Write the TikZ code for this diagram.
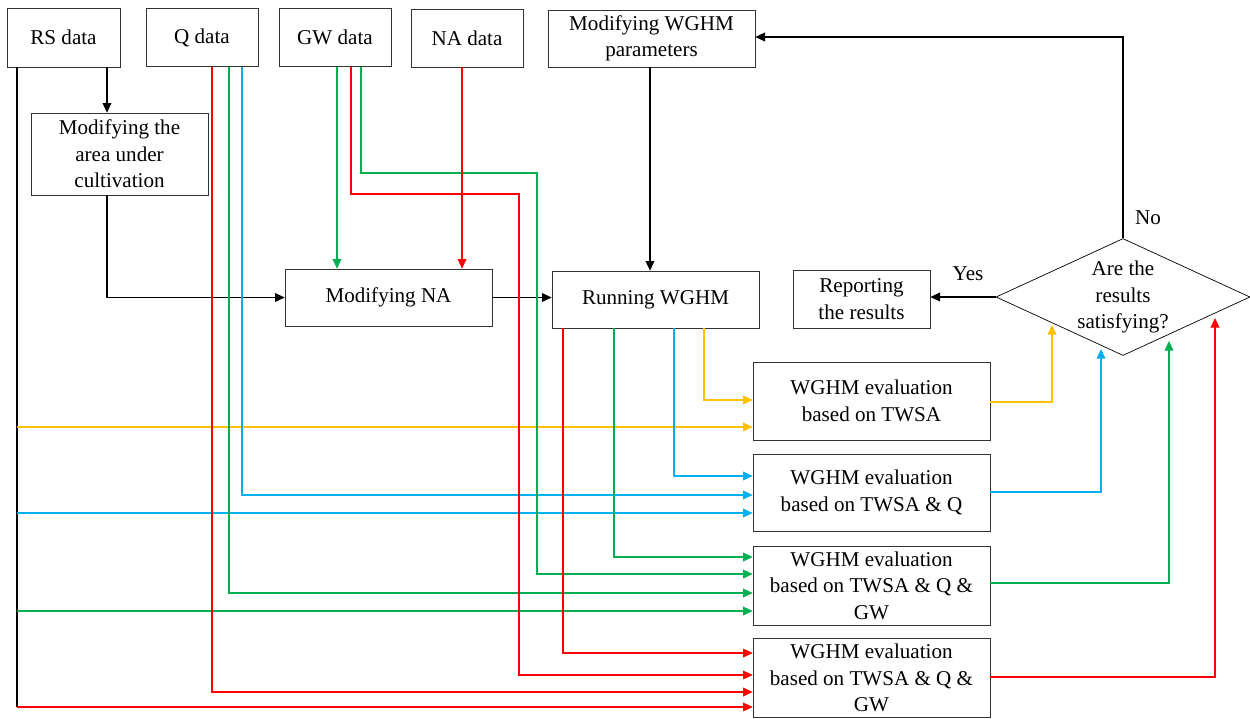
\documentclass[tikz,border=0pt]{standalone}
\usepackage{fontspec}
\setmainfont{Liberation Serif}
\usetikzlibrary{arrows.meta,shapes.geometric}
\definecolor{cyel}{HTML}{FFC000}
\definecolor{cblu}{HTML}{00B0F0}
\definecolor{cgrn}{HTML}{00B050}
\definecolor{cred}{HTML}{FF0000}
\tikzset{
  box/.style={draw=black!80, rectangle, align=center, inner sep=1pt, font=\fontsize{12}{15}\selectfont},
  databox/.style={box, minimum width=2.24cm, minimum height=1.16cm},
  evalbox/.style={box, minimum width=4.74cm, minimum height=1.56cm},
  link/.style={line width=0.6pt, -{Triangle[length=5.5pt,width=5pt]}},
}
\begin{document}
\begin{tikzpicture}[x=0.02cm, y=-0.02cm, font=\fontsize{12}{15}\selectfont]
  \useasboundingbox (0,0) rectangle (1250,718);
  % data and process boxes
  \node[databox, minimum width=2.26cm, minimum height=1.18cm] (rs) at (63.5,37.5) {RS data};
  \node[databox] (q) at (202,37.5) {Q data};
  \node[databox] (gw) at (335,37.5) {GW data};
  \node[databox] (na) at (467,38) {NA data};
  \node[box, minimum width=4.14cm, minimum height=1.14cm] (par) at (651.5,38.5) {Modifying WGHM\\parameters};
  \node[box, minimum width=3.54cm, minimum height=1.64cm] (area) at (119.5,154) {Modifying the\\area under\\cultivation};
  \node[box, minimum width=4.14cm, minimum height=1.14cm] (mna) at (388.5,297.5) {Modifying NA};
  \node[box, minimum width=4.14cm, minimum height=1.14cm] (run) at (655.5,299.5) {Running WGHM};
  \node[box, minimum width=2.74cm, minimum height=1.16cm] (rep) at (861.5,299) {Reporting\\the results};
  \node[draw, diamond, aspect=2.17, inner sep=0pt, minimum width=5.08cm, minimum height=2.34cm, align=center] (dec) at (1123,297) {Are the\\results\\satisfying?};
  \node[evalbox] (e1) at (871.5,401) {WGHM evaluation\\based on TWSA};
  \node[evalbox, minimum height=1.54cm] (e2) at (871.5,492.5) {WGHM evaluation\\based on TWSA \& Q};
  \node[evalbox, minimum height=1.58cm] (e3) at (871.5,585.5) {WGHM evaluation\\based on TWSA \& Q \&\\GW};
  \node[evalbox, minimum height=1.58cm] (e4) at (871.5,678) {WGHM evaluation\\based on TWSA \& Q \&\\GW};
  \node (no) at (1148,218) {No};
  \node (yes) at (968,274) {Yes};
  \coordinate (rsend) at (17,707);
%
  % main flow
  \draw[link] (rs.south -| 107,0) -- (area.north -| 107,0);
  \draw[link] (area.south -| 107,0) |- (mna.west);
  \draw[link] (mna.east) -- (run.west |- mna.east);
  \draw[link] (par.south -| 650,0) -- (run.north -| 650,0);
  \draw[link] (dec.north) -- (dec.north |- 0,37) -- (par.east |- 0,37);
  \draw[link] (dec.west) -- (rep.east |- dec.west);
  \draw[line width=0.6pt] (rs.south -| rsend) -- (rsend);
  % RS data to the evaluations
  \draw[link, cyel] (rsend |- 0,427) -- (e1.west |- 0,427);
  \draw[link, cblu] (rsend |- 0,513) -- (e2.west |- 0,513);
  \draw[link, cgrn] (rsend |- 0,611) -- (e3.west |- 0,611);
  \draw[link, cred] (rsend) -- (e4.west |- rsend);
  % Q data
  \draw[link, cred] (q.south -| 212,0) |- (e4.west |- 0,692);
  \draw[link, cgrn] (q.south -| 229,0) |- (e3.west |- 0,593);
  \draw[link, cblu] (q.south -| 242,0) |- (e2.west |- 0,495);
  % GW data
  \draw[link, cgrn] (gw.south -| 337,0) -- (mna.north -| 337,0);
  \draw[link, cred] (gw.south -| 351,0) |- (519,194) |- (e4.west |- 0,675);
  \draw[link, cgrn] (gw.south -| 361,0) |- (537,173) |- (e3.west |- 0,574);
  % NA data
  \draw[link, cred] (na.south -| 462,0) -- (mna.north -| 462,0);
  % model output
  \draw[link, cred] (run.south -| 563,0) |- (e4.west |- 0,653);
  \draw[link, cgrn] (run.south -| 614,0) |- (e3.west |- 0,557);
  \draw[link, cblu] (run.south -| 674,0) |- (e2.west |- 0,476);
  \draw[link, cyel] (run.south -| 704,0) |- (e1.west |- 0,400);
  % evaluations to the decision
  \draw[link, cyel] (e1.east |- 0,402) -| (1052,325);
  \draw[link, cblu] (e2.east |- 0,492) -| (1101,349);
  \draw[link, cgrn] (e3.east |- 0,583) -| (1169,341);
  \draw[link, cred] (e4.east |- 0,677) -| (1215,318);
\end{tikzpicture}
\end{document}
